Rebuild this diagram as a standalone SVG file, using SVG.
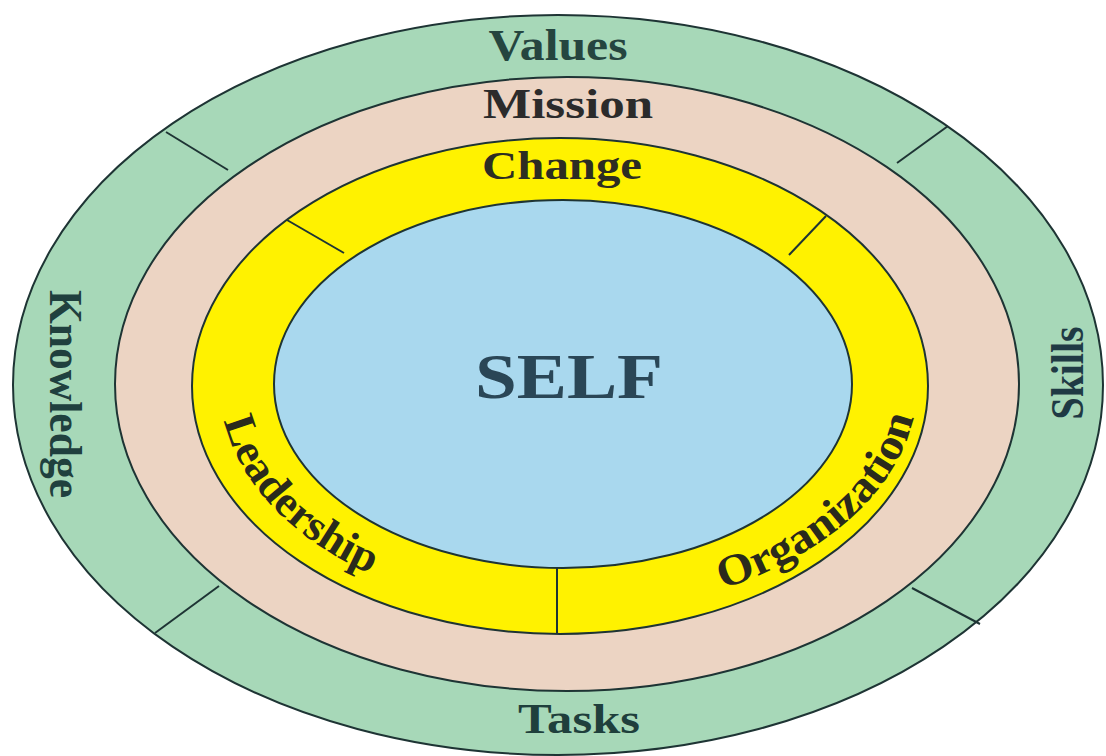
<svg xmlns="http://www.w3.org/2000/svg" width="1106" height="756" viewBox="0 0 1106 756">
<style>
.ring{stroke:#1e3434;stroke-width:2}
.div{stroke:#1e3434;stroke-width:2;fill:none}
.lbl{font-family:"Liberation Serif","Times New Roman",serif;font-weight:bold}
</style>
<defs>
<path id="leadPath" d="M 220 385 A 341 228 0 0 0 561 613"/>
<path id="orgPath" d="M 565 613 A 352 228 0 0 0 917 385"/>
</defs>
<rect width="1106" height="756" fill="#ffffff"/>
<g id="values-ring">
<ellipse class="ring" cx="558" cy="385" rx="545" ry="370" fill="#a7d8b8"/>
</g>
<g id="mission-ring">
<ellipse class="ring" cx="567" cy="384" rx="452" ry="307" fill="#ecd4c3"/>
</g>
<g id="change-ring">
<ellipse class="ring" cx="560" cy="386" rx="368" ry="248" fill="#fff200"/>
</g>
<g id="self">
<ellipse class="ring" cx="563" cy="384" rx="289" ry="184" fill="#a9d8ee"/>
<text class="lbl" x="569" y="398" font-size="64" text-anchor="middle" fill="#2a4656" textLength="188" lengthAdjust="spacingAndGlyphs">SELF</text>
</g>
<g id="dividers">
<line class="div" x1="166" y1="132" x2="228" y2="170"/>
<line class="div" x1="948" y1="126" x2="897" y2="163"/>
<line class="div" x1="219" y1="586" x2="155" y2="633"/>
<line class="div" x1="912" y1="588" x2="980" y2="624"/>
<line class="div" x1="287" y1="220" x2="344" y2="253"/>
<line class="div" x1="826" y1="216" x2="789" y2="255"/>
<line class="div" x1="557" y1="568" x2="557" y2="634"/>
</g>
<g id="values">
<text class="lbl" x="558" y="60" font-size="44" text-anchor="middle" fill="#25453f" textLength="139" lengthAdjust="spacingAndGlyphs">Values</text>
</g>
<g id="mission">
<text class="lbl" x="568" y="118" font-size="42" text-anchor="middle" fill="#2b2b2b" textLength="170" lengthAdjust="spacingAndGlyphs">Mission</text>
</g>
<g id="change">
<text class="lbl" x="562" y="179" font-size="41" text-anchor="middle" fill="#2d2d22" textLength="160" lengthAdjust="spacingAndGlyphs">Change</text>
</g>
<g id="knowledge">
<text class="lbl" transform="translate(50,394) rotate(90)" x="0" y="0" font-size="47" text-anchor="middle" fill="#20403e" textLength="208" lengthAdjust="spacingAndGlyphs">Knowledge</text>
</g>
<g id="skills">
<text class="lbl" transform="translate(1083,373) rotate(-90)" x="0" y="0" font-size="47" text-anchor="middle" fill="#1f3a44" textLength="93" lengthAdjust="spacingAndGlyphs">Skills</text>
</g>
<g id="tasks">
<text class="lbl" x="579" y="733" font-size="42" text-anchor="middle" fill="#1f3f3c" textLength="122" lengthAdjust="spacingAndGlyphs">Tasks</text>
</g>
<g id="leadership">
<text class="lbl" font-size="44" fill="#2a2a1c"><textPath href="#leadPath" startOffset="36" textLength="219" lengthAdjust="spacingAndGlyphs">Leadership</textPath></text>
</g>
<g id="organization">
<text class="lbl" font-size="44" fill="#2a2a1c"><textPath href="#orgPath" startOffset="160" textLength="268" lengthAdjust="spacingAndGlyphs">Organization</textPath></text>
</g>
</svg>
